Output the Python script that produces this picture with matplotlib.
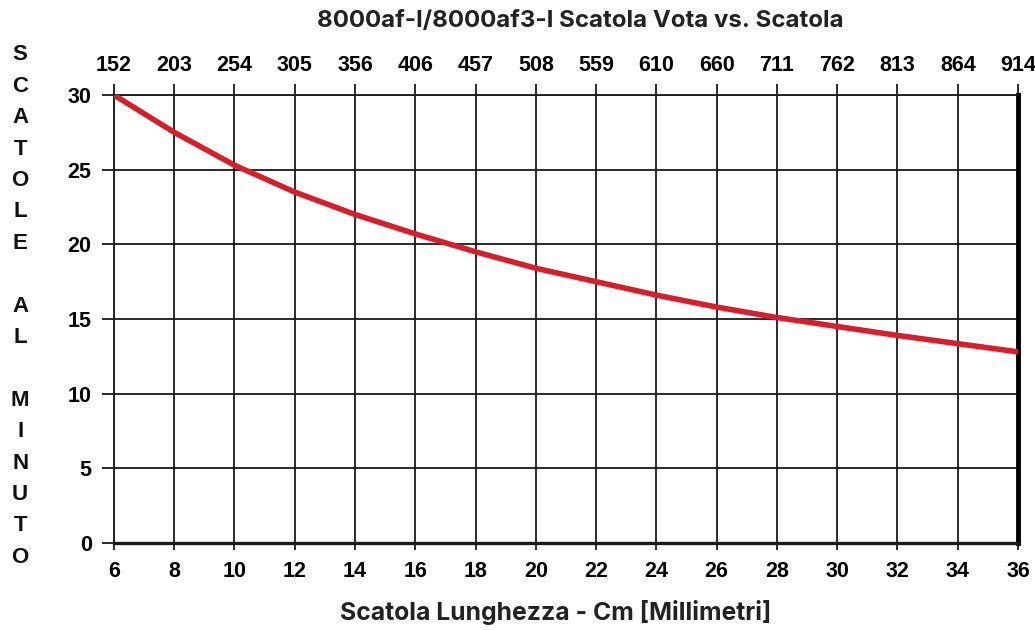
import matplotlib
matplotlib.use("Agg")
import matplotlib.pyplot as plt

# Data
length_in = [6, 8, 10, 12, 14, 16, 18, 20, 22, 24, 26, 28, 30, 32, 34, 36]
length_mm = ["152", "203", "254", "305", "356", "406", "457", "508", "559",
             "610", "660", "711", "762", "813", "864", "914"]
boxes_per_min = [30.0, 27.5, 25.3, 23.5, 22.0, 20.7, 19.5, 18.4, 17.5, 16.6,
                 15.8, 15.1, 14.5, 13.9, 13.35, 12.8]
y_ticks = [0, 5, 10, 15, 20, 25, 30]

title = "8000af-I/8000af3-I Scatola Vota vs. Scatola"
xlabel = "Scatola Lunghezza - Cm [Millimetri]"
ylabel = "SCATOLE AL MINUTO"

fig = plt.figure(figsize=(10.35, 6.3), dpi=100)
ax = fig.add_axes([0.1101, 0.1381, 0.8735, 0.7111])

tick_font = dict(family="Liberation Sans", weight="bold", size=15.5)
grid_color = "#1a1a1a"

ax.set_xlim(6, 36)
ax.set_ylim(0, 30)
ax.set_xticks(length_in)
ax.set_xticklabels([str(v) for v in length_in], fontdict=tick_font)
ax.set_yticks(y_ticks)
ax.set_yticklabels([str(v) for v in y_ticks], fontdict=tick_font)
ax.grid(True, color=grid_color, linewidth=1.3)
ax.set_axisbelow(True)
ax.tick_params(axis="x", direction="out", length=5, width=1.3, color=grid_color, pad=8)
ax.tick_params(axis="y", direction="out", length=9, width=1.3, color=grid_color, pad=7)
for s in ["left", "top"]:
    ax.spines[s].set_linewidth(1.3)
    ax.spines[s].set_color(grid_color)
ax.spines["bottom"].set_linewidth(2.4)
ax.spines["bottom"].set_color(grid_color)
ax.spines["right"].set_linewidth(3.5)
ax.spines["right"].set_color("black")

ax.plot(length_in, boxes_per_min, color="#d61f2c", linewidth=4.0,
        solid_capstyle="butt", zorder=5)

ax2 = ax.twiny()
ax2.set_xlim(6, 36)
ax2.set_xticks(length_in)
ax2.set_xticklabels(length_mm, fontdict=tick_font)
ax2.tick_params(axis="x", direction="out", length=8, width=1.3, color=grid_color, pad=6)
for s in ax2.spines.values():
    s.set_visible(False)

fig.text(0.561, 0.966, title, ha="center", va="center",
         fontsize=17.3, fontweight="bold", family="Inter", color="#222222")
fig.text(0.537, 0.028, xlabel, ha="center", va="center",
         fontsize=17.8, fontweight="bold", family="Inter", color="#222222")
fig.text(0.0195, 0.514, "\n".join(ylabel), ha="center", va="center",
         fontsize=16, fontweight="bold", family="Liberation Sans",
         linespacing=1.65, color="#111111")

fig.savefig("out.png", dpi=100, facecolor="white")
